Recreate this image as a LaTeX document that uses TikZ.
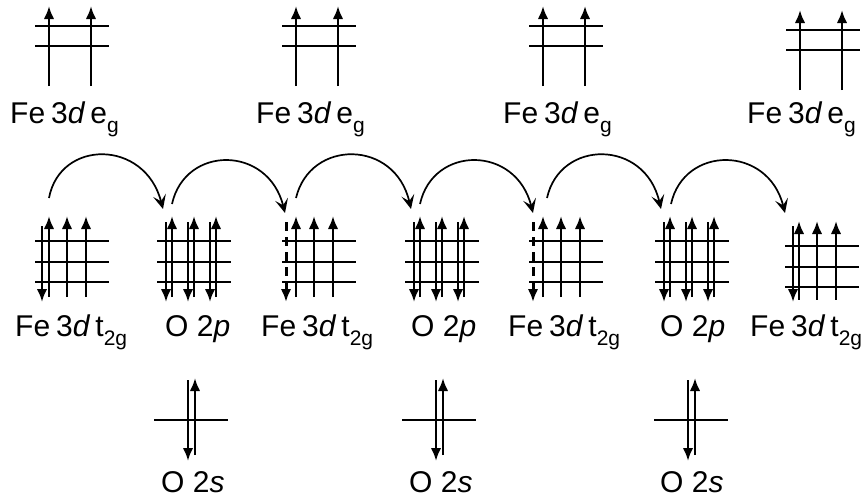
\documentclass[tikz,border=0pt]{standalone}
\usepackage{fontspec}
\setmainfont{Liberation Sans}
\usetikzlibrary{arrows.meta}
\newcommand{\lowidx}[1]{\raisebox{-0.3em}{\fontsize{21}{21}\selectfont #1}}
\newcommand{\egtext}{Fe\kern.2em 3\textit{d}\kern.17em e\lowidx{g}}
\newcommand{\ttgtext}{Fe\kern.2em 3\textit{d}\kern.17em t\lowidx{2g}}
\tikzset{
  level/.style={line width=1.8pt},
  spin/.style={line width=2.4pt,-{Latex[length=13pt,width=10.5pt]}},
  hop/.style={line width=1.7pt,-{Stealth[length=14pt,width=13pt,inset=6pt]}},
  lab/.style={anchor=base west,inner sep=0pt,font=\fontsize{30}{30}\selectfont}
}
\begin{document}
\begin{tikzpicture}[x=1pt,y=-1pt]
        \useasboundingbox (0,0) rectangle (862,499);
        % e_g levels
        \foreach \gx/\gy in {35/0,282/0,529/0,786/4} {
          \foreach \ly in {26,46} \draw[level] (\gx,\ly+\gy) -- +(74,0);
          \foreach \ax in {14,56} \draw[spin] (\gx+\ax,86+\gy) -- (\gx+\ax,6+\gy);
        }
        % t_2g levels
        \foreach \gx/\gy/\dn/\dd in {35/0/7/0,282/0/4/1,529/0/4/1,785/5/8/0} {
          \foreach \ly in {241,262,282} \draw[level] (\gx,\ly+\gy) -- +(74,0);
          \foreach \ax in {14,32,51} \draw[spin] (\gx+\ax,297+\gy/2) -- (\gx+\ax,216+\gy);
          \ifnum\dd=1
            \draw[spin,line width=3pt,dash pattern=on 9pt off 6pt] (\gx+\dn,222) -- (\gx+\dn,302);
          \else
            \draw[spin] (\gx+\dn,226) -- (\gx+\dn,302);
          \fi
        }
        % O 2p levels
        \foreach \gx in {157,405,655} {
          \foreach \ly in {241,262,282} \draw[level] (\gx,\ly) -- +(74,0);
          \foreach \ax in {15,37,59} {
            \draw[spin] (\gx+\ax,297) -- (\gx+\ax,216);
            \draw[spin] (\gx+\ax-6,222) -- (\gx+\ax-6,302);
          }
        }
        % O 2s levels
        \foreach \gx in {154,402,654} {
          \draw[level] (\gx,420) -- +(74,0);
          \draw[spin] (\gx+41,455) -- (\gx+41,378);
          \draw[spin] (\gx+34,380) -- (\gx+34,461);
        }

        \node[lab] (eg_a) at (10,123) {\egtext};
        \node[lab] (eg_b) at (256,123) {\egtext};
        \node[lab] (eg_c) at (503,123) {\egtext};
        \node[lab] (eg_d) at (747,123) {\egtext};
        \node[lab] (t_a) at (15,336) {\ttgtext};
        \node[lab] (p_a) at (165,336) {O 2\textit{p}};
        \node[lab] (t_b) at (261,336) {\ttgtext};
        \node[lab] (p_b) at (411,336) {O 2\textit{p}};
        \node[lab] (t_c) at (508,336) {\ttgtext};
        \node[lab] (p_c) at (660,336) {O 2\textit{p}};
        \node[lab] (t_d) at (750,336) {\ttgtext};
        \node[lab] (s_a) at (161,492) {O 2\textit{s}};
        \node[lab] (s_b) at (409,492) {O 2\textit{s}};
        \node[lab] (s_c) at (660,492) {O 2\textit{s}};

        \coordinate (h0) at (49,198);
        \coordinate (h1) at (163,209);
        \coordinate (h2) at (172,204);
        \coordinate (h3) at (285,213);
        \coordinate (h4) at (296,198);
        \coordinate (h5) at (411,209);
        \coordinate (h6) at (420,204);
        \coordinate (h7) at (533,213);
        \coordinate (h8) at (547,198);
        \coordinate (h9) at (661,209);
        \coordinate (h10) at (671,204);
        \coordinate (h11) at (785,213);

        \draw[hop] (h0) .. controls (60,139) and (145,139) .. (h1);
        \draw[hop] (h2) .. controls (185,145) and (268,145) .. (h3);
        \draw[hop] (h4) .. controls (310,139) and (395,139) .. (h5);
        \draw[hop] (h6) .. controls (433,145) and (516,145) .. (h7);
        \draw[hop] (h8) .. controls (560,139) and (645,139) .. (h9);
        \draw[hop] (h10) .. controls (684,145) and (768,145) .. (h11);
\end{tikzpicture}
\end{document}
